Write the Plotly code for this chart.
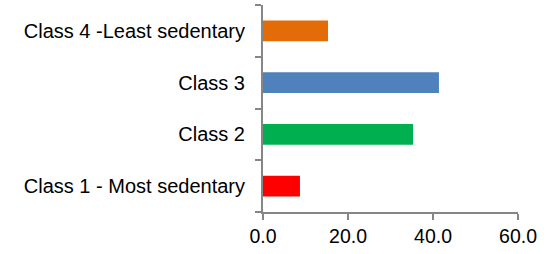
import plotly.graph_objects as go

categories = ["Class 1 - Most sedentary", "Class 2", "Class 3", "Class 4 -Least sedentary"]
values = [8.7, 35.3, 41.4, 15.3]
colors = ["#FF0000", "#00B050", "#4F81BD", "#E36C09"]

fig = go.Figure(go.Bar(
    x=values, y=categories, orientation="h",
    marker=dict(color=colors, line=dict(width=0)),
    width=0.4,
))

axis_color = "#868686"
fig.update_layout(
    width=557, height=254,
    margin=dict(l=263, r=39, t=5, b=42, autoexpand=False),
    paper_bgcolor="white", plot_bgcolor="white",
    showlegend=False,
    font=dict(family="Liberation Sans, Arial", size=19, color="black"),
    xaxis=dict(
        range=[0, 60], dtick=20, tick0=0, tickformat=".1f",
        showgrid=False, zeroline=False, automargin=False,
        showline=True, linecolor=axis_color, linewidth=2,
        ticks="outside", ticklen=6, tickwidth=2, tickcolor=axis_color,
        tickfont=dict(size=19.5),
        ticklabelstandoff=0,
    ),
    yaxis=dict(
        categoryorder="array", categoryarray=categories,
        showgrid=False, zeroline=False, automargin=False,
        showline=True, linecolor=axis_color, linewidth=2,
        ticks="outside", ticklen=6, tickwidth=2, tickcolor=axis_color,
        tickson="boundaries",
        tickfont=dict(size=20),
        ticklabelstandoff=12,
    ),
)

fig.write_html(
    "out.html",
    config={"displayModeBar": False},
    post_script="document.body.style.margin='0';document.body.style.overflow='hidden';",
)
